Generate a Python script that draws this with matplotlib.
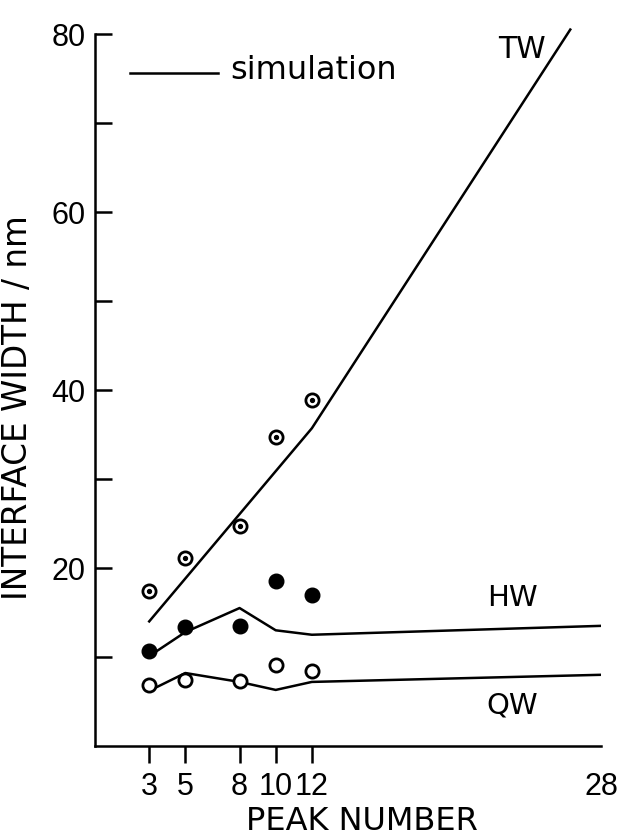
import matplotlib
matplotlib.use("Agg")
import matplotlib.pyplot as plt

# ---- data ----
peaks = [3, 5, 8, 10, 12]
tw_meas = [17.4, 21.1, 24.7, 34.7, 38.9]
hw_meas = [10.7, 13.4, 13.5, 18.5, 17.0]
qw_meas = [6.9, 7.4, 7.3, 9.1, 8.4]

tw_sim_x = [3, 12, 26.3]
tw_sim_y = [14.0, 35.7, 80.5]
sim_x = [3, 5, 8, 10, 12, 28]
hw_sim_y = [10.1, 12.8, 15.5, 13.0, 12.5, 13.5]
qw_sim_y = [6.2, 8.2, 7.2, 6.3, 7.2, 8.0]

xticks = [3, 5, 8, 10, 12, 28]
yticks = [10, 20, 30, 40, 50, 60, 70, 80]
ytick_labels = ["", "20", "", "40", "", "60", "", "80"]

plt.rcParams['font.family'] = ['DejaVu Sans']
tick_font = ['Liberation Sans Narrow', 'Liberation Sans', 'DejaVu Sans']

fig = plt.figure(figsize=(6.19, 8.35), dpi=100)
ax = fig.add_axes([95/619, 1-746/835, (601-95)/619, (746-34)/835])

lw = 1.8
ax.plot(tw_sim_x, tw_sim_y, color='black', lw=lw, clip_on=False)
ax.plot(sim_x, hw_sim_y, color='black', lw=lw)
ax.plot(sim_x, qw_sim_y, color='black', lw=lw)

# measured points
ax.plot(peaks, tw_meas, 'o', ms=9.5, mfc='white', mec='black', mew=2.0, zorder=5)
ax.plot(peaks, tw_meas, 'o', ms=2.8, mfc='black', mec='black', zorder=6)
ax.plot(peaks, hw_meas, 'o', ms=10.5, mfc='black', mec='black', zorder=5)
ax.plot(peaks, qw_meas, 'o', ms=9.5, mfc='white', mec='black', mew=2.0, zorder=5)

# legend drawn manually
ax.plot([1.94, 6.8], [75.6, 75.6], color='black', lw=lw)
ax.text(7.5, 75.9, "simulation", fontsize=23, va='center', ha='left')

ax.text(23.6, 78.3, "TW", fontsize=21.5, va='center', ha='center')
ax.text(23.1, 16.6, "HW", fontsize=21, va='center', ha='center')
ax.text(23.1, 4.6, "QW", fontsize=21, va='center', ha='center')

ax.set_xlim(0, 28)
ax.set_ylim(0, 80)
for s in ['top', 'right']:
    ax.spines[s].set_visible(False)
for s in ['left', 'bottom']:
    ax.spines[s].set_linewidth(lw)

ax.tick_params(axis='x', direction='out', length=12, width=lw, pad=7)
ax.tick_params(axis='y', direction='in', length=12, width=lw, pad=7)
ax.set_xticks(xticks)
ax.set_xticklabels([str(t) for t in xticks], family=tick_font, fontsize=22)
ax.set_yticks(yticks)
ax.set_yticklabels(ytick_labels, family=tick_font, fontsize=22)
ax.xaxis.get_major_ticks()[-1].tick1line.set_visible(False)

fig.text(18/619, 1-408/835, "INTERFACE WIDTH / nm", rotation=90, fontsize=23.5,
         va='center', ha='center')
fig.text(362/619, 1-821/835, "PEAK NUMBER", fontsize=23, va='center', ha='center')

fig.savefig("out.png", dpi=100, facecolor='white')
